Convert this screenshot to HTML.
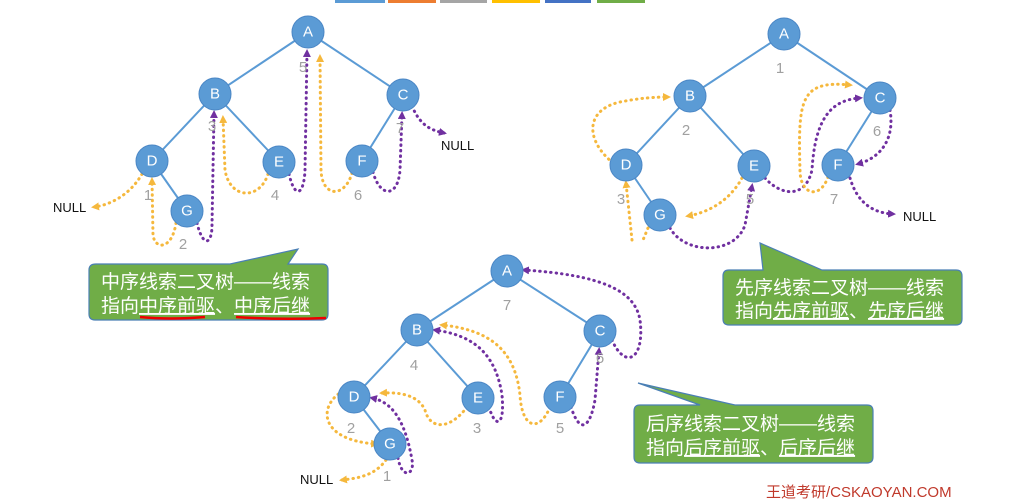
<!DOCTYPE html>
<html><head><meta charset="utf-8"><style>
body{margin:0;background:#fff;width:1011px;height:501px;overflow:hidden}
svg{display:block}
.n{fill:#5b9bd5;stroke:#4a86c5;stroke-width:1}
.nt{font-family:"Liberation Sans",sans-serif;font-size:15px;fill:#fff;text-anchor:middle;dominant-baseline:central}
.e{stroke:#5b9bd5;stroke-width:2}
.o{fill:none;stroke:#f5b83d;stroke-width:3;stroke-dasharray:0.5 5;stroke-linecap:round}
.p{fill:none;stroke:#7030a0;stroke-width:3;stroke-dasharray:0.5 5;stroke-linecap:round}
.l{font-family:"Liberation Sans",sans-serif;font-size:15px;fill:#a0a0a0;text-anchor:middle}
.nl{font-family:"Liberation Sans",sans-serif;font-size:13px;fill:#111}
.ct{font-family:"Liberation Sans","Noto Sans CJK SC",sans-serif;font-size:19px;fill:#fff}
</style></head><body>
<svg width="1011" height="501" viewBox="0 0 1011 501">
<defs>
<marker id="ao" markerWidth="8" markerHeight="8" refX="5" refY="4" orient="auto" markerUnits="userSpaceOnUse"><path d="M0,0 L8,4 L0,8z" fill="#f5b83d"/></marker>
<marker id="ap" markerWidth="8" markerHeight="8" refX="5" refY="4" orient="auto" markerUnits="userSpaceOnUse"><path d="M0,0 L8,4 L0,8z" fill="#7030a0"/></marker>
</defs>
<rect x="335" y="0" width="50" height="3" fill="#5b9bd5"/><rect x="388" y="0" width="48" height="3" fill="#ed7d31"/><rect x="440" y="0" width="47" height="3" fill="#a5a5a5"/><rect x="492" y="0" width="48" height="3" fill="#ffc000"/><rect x="545" y="0" width="46" height="3" fill="#4472c4"/><rect x="597" y="0" width="48" height="3" fill="#70ad47"/>

<!-- Tree 1 -->
<g class="e"><line x1="308" y1="32" x2="215" y2="94"/><line x1="308" y1="32" x2="403" y2="95"/><line x1="215" y1="94" x2="152" y2="161"/><line x1="215" y1="94" x2="279" y2="162"/><line x1="403" y1="95" x2="362" y2="161"/><line x1="152" y1="161" x2="187" y2="211"/></g>
<path class="o" d="M142,174 C130,195 110,205 94,207" marker-end="url(#ao)"/>
<path class="o" d="M176,223 C172,250 155,250 153,235 L152,180" marker-end="url(#ao)"/>
<path class="p" d="M197,223 C203,248 212,245 212,225 L214,113" marker-end="url(#ap)"/>
<path class="o" d="M268,174 C260,200 230,200 225,170 L223,118" marker-end="url(#ao)"/>
<path class="p" d="M289,174 C295,200 304,195 305,170 L307,52" marker-end="url(#ap)"/>
<path class="o" d="M352,173 C345,198 322,198 321,170 L320,57" marker-end="url(#ao)"/>
<path class="p" d="M373,172 C380,198 398,198 400,170 L402,114" marker-end="url(#ap)"/>
<path class="p" d="M412,106 C420,125 430,130 444,133" marker-end="url(#ap)"/>
<g><circle class="n" cx="308" cy="32" r="16"/><text class="nt" x="308" y="32">A</text>
<circle class="n" cx="215" cy="94" r="16"/><text class="nt" x="215" y="94">B</text>
<circle class="n" cx="403" cy="95" r="16"/><text class="nt" x="403" y="95">C</text>
<circle class="n" cx="152" cy="161" r="16"/><text class="nt" x="152" y="161">D</text>
<circle class="n" cx="279" cy="162" r="16"/><text class="nt" x="279" y="162">E</text>
<circle class="n" cx="362" cy="161" r="16"/><text class="nt" x="362" y="161">F</text>
<circle class="n" cx="187" cy="211" r="16"/><text class="nt" x="187" y="211">G</text></g>
<text class="l" x="148" y="200">1</text><text class="l" x="183" y="249">2</text><text class="l" x="212" y="131">3</text><text class="l" x="275" y="200">4</text><text class="l" x="303" y="72">5</text><text class="l" x="358" y="200">6</text><text class="l" x="400" y="133">7</text>
<text class="nl" x="53" y="212">NULL</text><text class="nl" x="441" y="150">NULL</text>

<!-- Tree 2 -->
<g class="e"><line x1="784" y1="34" x2="690" y2="96"/><line x1="784" y1="34" x2="880" y2="98"/><line x1="690" y1="96" x2="626" y2="165"/><line x1="690" y1="96" x2="754" y2="166"/><line x1="880" y1="98" x2="838" y2="165"/><line x1="626" y1="165" x2="660" y2="215"/></g>
<path class="o" d="M613,163 C585,140 585,110 620,102 C640,98 655,97 668,97" marker-end="url(#ao)"/>
<path class="o" d="M632,240 L626,183" marker-end="url(#ao)"/>
<path class="o" d="M648,228 L643,240"/>
<path class="p" d="M670,228 C685,255 735,255 745,225 L752,186" marker-end="url(#ap)"/>
<path class="o" d="M742,178 C730,200 710,212 688,216" marker-end="url(#ao)"/>
<path class="p" d="M765,178 C780,195 805,200 812,170 C815,120 830,100 860,98" marker-end="url(#ap)"/>
<path class="o" d="M828,177 C820,200 800,195 800,170 C798,100 800,80 850,85" marker-end="url(#ao)"/>
<path class="p" d="M890,110 C895,140 880,158 858,164" marker-end="url(#ap)"/>
<path class="p" d="M850,178 C858,205 875,213 893,214" marker-end="url(#ap)"/>
<g><circle class="n" cx="784" cy="34" r="16"/><text class="nt" x="784" y="34">A</text>
<circle class="n" cx="690" cy="96" r="16"/><text class="nt" x="690" y="96">B</text>
<circle class="n" cx="880" cy="98" r="16"/><text class="nt" x="880" y="98">C</text>
<circle class="n" cx="626" cy="165" r="16"/><text class="nt" x="626" y="165">D</text>
<circle class="n" cx="754" cy="166" r="16"/><text class="nt" x="754" y="166">E</text>
<circle class="n" cx="838" cy="165" r="16"/><text class="nt" x="838" y="165">F</text>
<circle class="n" cx="660" cy="215" r="16"/><text class="nt" x="660" y="215">G</text></g>
<text class="l" x="780" y="73">1</text><text class="l" x="686" y="135">2</text><text class="l" x="621" y="204">3</text><text class="l" x="750" y="204">5</text><text class="l" x="877" y="136">6</text><text class="l" x="834" y="204">7</text>
<text class="nl" x="903" y="221">NULL</text>

<!-- Tree 3 -->
<g class="e"><line x1="507" y1="271" x2="417" y2="330"/><line x1="507" y1="271" x2="600" y2="331"/><line x1="417" y1="330" x2="354" y2="397"/><line x1="417" y1="330" x2="478" y2="398"/><line x1="600" y1="331" x2="560" y2="397"/><line x1="354" y1="397" x2="390" y2="444"/></g>
<path class="o" d="M386,460 C375,475 360,478 342,480" marker-end="url(#ao)"/>
<path class="p" d="M398,458 C402,480 415,475 412,460 C405,420 392,402 372,398" marker-end="url(#ap)"/>
<path class="o" d="M343,391 C318,405 318,440 376,444" marker-end="url(#ao)"/>
<path class="o" d="M467,407 C450,430 430,430 425,410 C418,395 400,392 382,393" marker-end="url(#ao)"/>
<path class="p" d="M489,407 C495,428 505,428 502,395 C495,350 470,335 435,330" marker-end="url(#ap)"/>
<path class="o" d="M550,407 C540,432 522,430 520,395 C515,350 490,330 442,325" marker-end="url(#ao)"/>
<path class="p" d="M571,407 C580,435 590,428 595,400 L599,350" marker-end="url(#ap)"/>
<path class="p" d="M612,340 C625,370 645,360 640,320 C635,290 600,275 524,270" marker-end="url(#ap)"/>
<g><circle class="n" cx="507" cy="271" r="16"/><text class="nt" x="507" y="271">A</text>
<circle class="n" cx="417" cy="330" r="16"/><text class="nt" x="417" y="330">B</text>
<circle class="n" cx="600" cy="331" r="16"/><text class="nt" x="600" y="331">C</text>
<circle class="n" cx="354" cy="397" r="16"/><text class="nt" x="354" y="397">D</text>
<circle class="n" cx="478" cy="398" r="16"/><text class="nt" x="478" y="398">E</text>
<circle class="n" cx="560" cy="397" r="16"/><text class="nt" x="560" y="397">F</text>
<circle class="n" cx="390" cy="444" r="16"/><text class="nt" x="390" y="444">G</text></g>
<text class="l" x="507" y="310">7</text><text class="l" x="414" y="370">4</text><text class="l" x="351" y="433">2</text><text class="l" x="477" y="433">3</text><text class="l" x="560" y="433">5</text><text class="l" x="600" y="363">6</text><text class="l" x="387" y="481">1</text>
<text class="nl" x="300" y="484">NULL</text>

<!-- Callouts -->
<g fill="#70ad47" stroke="#4a7fb5" stroke-width="1.2">
<path d="M96,264 L230,264 L298,249 L288,264 L322,264 Q328,264 328,270 L328,314 Q328,320 322,320 L95,320 Q89,320 89,314 L89,270 Q89,264 96,264Z"/>
<path d="M729,270 L763,270 L760,243 L822,270 L956,270 Q962,270 962,276 L962,319 Q962,325 956,325 L729,325 Q723,325 723,319 L723,276 Q723,270 729,270Z"/>
<path d="M640,405 L700,405 L638,383 L735,405 L867,405 Q873,405 873,411 L873,457 Q873,463 867,463 L640,463 Q634,463 634,457 L634,411 Q634,405 640,405Z"/>
</g>
<text class="ct" x="101" y="288">中序线索二叉树——线索</text>
<text class="ct" x="101" y="312">指向<tspan text-decoration="underline">中序前驱</tspan>、<tspan text-decoration="underline">中序后继</tspan></text>
<path d="M140,317 Q170,320 205,317 M236,317 Q280,320 326,318" stroke="#e00" stroke-width="2.5" fill="none"/>
<text class="ct" x="735" y="294">先序线索二叉树——线索</text>
<text class="ct" x="735" y="317">指向<tspan text-decoration="underline">先序前驱</tspan>、<tspan text-decoration="underline">先序后继</tspan></text>
<text class="ct" x="646" y="430">后序线索二叉树——线索</text>
<text class="ct" x="646" y="454">指向<tspan text-decoration="underline">后序前驱</tspan>、<tspan text-decoration="underline">后序后继</tspan></text>
<text x="766" y="497" font-family="Liberation Sans,Noto Sans CJK SC,sans-serif" font-size="15" fill="#c0392b">王道考研/CSKAOYAN.COM</text>
</svg>
</body></html>
